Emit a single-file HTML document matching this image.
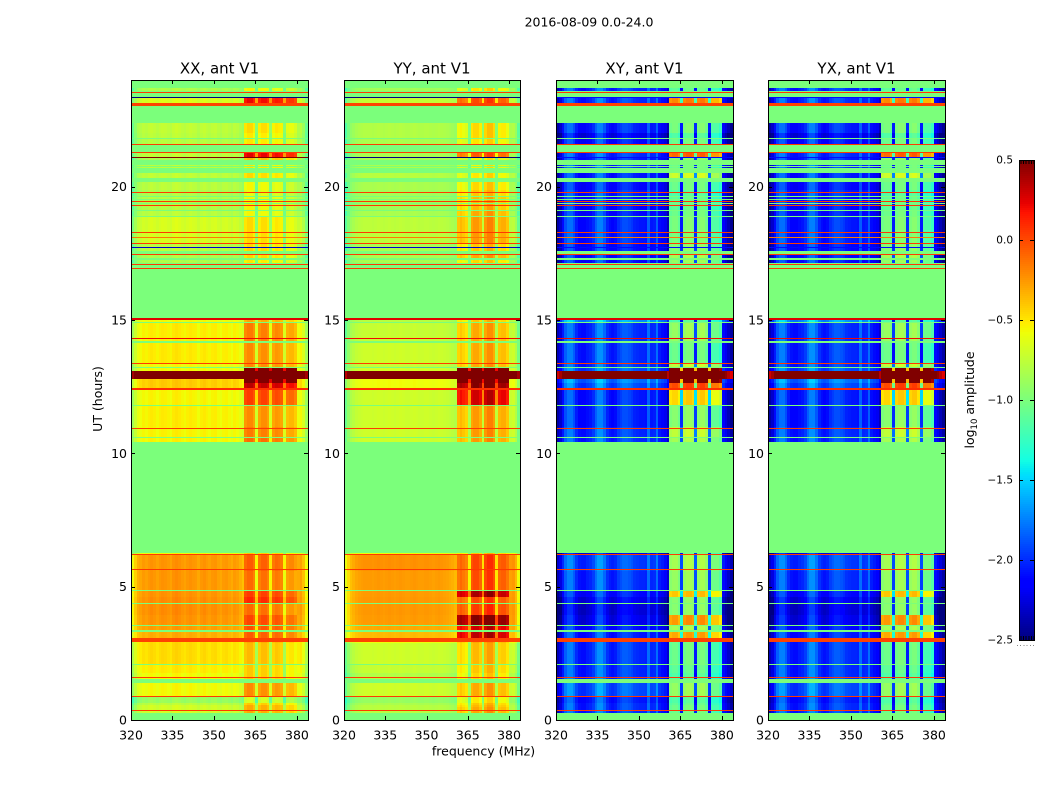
<!DOCTYPE html>
<html><head><meta charset="utf-8"><title>2016-08-09 0.0-24.0</title>
<style>
html,body{margin:0;padding:0;background:#fff;width:1050px;height:800px;overflow:hidden}
svg{display:block}
text{font-family:"DejaVu Sans","Liberation Sans",sans-serif;fill:#000}
</style></head>
<body>
<svg id="chart" xmlns="http://www.w3.org/2000/svg" width="1050" height="800" viewBox="0 0 1050 800">
<text x="589" y="26.5" text-anchor="middle" font-size="12.5">2016-08-09 0.0-24.0</text>
<text transform="translate(102,399) rotate(-90)" text-anchor="middle" font-size="12.5">UT (hours)</text>
<text x="483.5" y="755.5" text-anchor="middle" font-size="12.5">frequency (MHz)</text>
<text transform="translate(974,400) rotate(-90)" text-anchor="middle" font-size="12.5">log<tspan font-size="8.5" dy="3">10</tspan><tspan dy="-3"> amplitude</tspan></text>
</svg>
<script>
const _ = null;
const panelTitles = ["XX, ant V1", "YY, ant V1", "XY, ant V1", "YX, ant V1"];
const xTickValues = [320, 335, 350, 365, 380];
const yTickValues = [0, 5, 10, 15, 20];
const colorbarTicks = [0.5, 0.0, -0.5, -1.0, -1.5, -2.0, -2.5];
const colorbarLabels = ["0.5", "0.0", "\u22120.5", "\u22121.0", "\u22121.5", "\u22122.0", "\u22122.5"];
const maskedValue = -1.0;

/* time-band edges in UT hours */
const bandEdges = [
0,.25,.47,.5,.55,.58,.62,.88,1.375,1.55,
1.75,1.78,2.07,2.11,2.9,3.05,3.3,3.38,3.52,3.56,
3.95,4.35,4.39,4.6,4.83,4.88,5.6,6.2,6.25,10.43,
10.58,10.62,11.0,11.78,11.82,12.4,12.62,12.8,13.08,13.19,
13.25,13.35,14.15,14.2,14.9,14.94,15.06,17.12,17.25,17.33,
17.46,17.58,17.9,18.88,18.91,19.1,19.13,19.6,19.88,20.16,
20.33,20.5,20.7,20.74,20.78,20.82,21.0,21.08,21.27,21.58,
21.78,21.82,22.0,22.37,23.04,23.12,23.33,23.6,23.7,24];

/* log10 amplitude per band: outside / inside the 361-380 MHz blocks; null = flagged */
const xxLow = [_,-.72,_,-.72,_,-.8,-.92,-.6,_,-.6,
_,-.55,_,-.5,-.5,-.35,_,-.3,_,-.27,
-.25,_,-.25,-.27,_,-.28,-.28,-.6,_,-.58,
_,-.58,-.56,_,-.58,-.45,-.45,.7,-.6,_,
-.6,-.55,_,-.56,_,-.6,_,-.85,_,-.85,
_,-.8,-.7,_,-.8,_,-.82,-.85,-.8,_,
-.78,_,-.8,_,-.8,_,-.85,-.78,_,-.82,
_,-.8,-.78,_,-.7,-.68,_,-.85,_];
const xxHigh = [_,-.4,_,-.4,_,-.5,-.75,-.3,_,-.5,
_,-.5,_,-.45,-.4,-.15,_,-.12,_,-.08,
-.2,_,.02,-.05,_,-.2,-.15,-.5,_,-.2,
_,-.25,-.3,_,-.05,.25,.6,1.2,.6,_,
-.3,-.3,_,-.25,_,-.4,_,-.6,_,-.55,
_,-.55,-.55,_,-.65,_,-.65,-.7,-.65,_,
-.55,_,-.6,_,-.6,_,-.45,.15,_,-.6,
_,-.6,-.55,_,.1,.12,_,-.65,_];
const yyLow = [_,-.8,_,-.8,_,-.85,-.92,-.72,_,-.82,
_,-.75,_,-.72,-.6,-.38,_,-.32,_,-.28,
-.27,_,-.27,-.28,_,-.28,-.25,-.6,_,-.72,
_,-.72,-.72,_,-.72,-.6,-.6,.7,-.7,_,
-.75,-.72,_,-.75,_,-.8,_,-.85,_,-.85,
_,-.85,-.78,_,-.85,_,-.88,-.88,-.85,_,
-.8,_,-.85,_,-.85,_,-.85,-.85,_,-.85,
_,-.82,-.82,_,-.75,-.75,_,-.88,_];
const yyHigh = [_,-.4,_,-.45,_,-.5,-.6,-.4,_,-.55,
_,-.5,_,-.45,-.4,.25,_,.2,_,.42,
-.05,_,-.1,.3,_,-.1,-.08,-.5,_,-.35,
_,-.35,-.35,_,.2,.4,.6,1.2,.6,_,
-.4,-.4,_,-.4,_,-.5,_,-.55,_,-.4,
_,-.5,-.35,_,-.4,_,-.45,-.5,-.55,_,
-.6,_,-.65,_,-.65,_,-.65,-.15,_,-.6,
_,-.55,-.55,_,-.1,-.1,_,-.6,_];
const xyLow = [_,-2,_,-2,_,-2,-2.05,-1.9,_,-2,
_,-2,_,-2,-2,-2.05,_,-2.1,_,-2.2,
-2.25,_,-2.2,-2.1,_,-2,-1.95,-2.2,_,-2,
_,-2,-2.05,_,-2.05,-1.9,-1.8,.65,-1.9,_,
-2,-2,_,-2,_,-1.7,_,-2.1,_,-2.1,
_,-2.1,-2.05,_,-2.1,_,-2.1,-2.05,-2.1,_,
-2.05,_,-2,_,-2,_,-2.05,-2,_,-2.1,
_,-2.2,-2.05,_,-2,-2,_,-2,_];
const xyHigh = [_,-1.1,_,-1.1,_,-1.15,-1.2,-.95,_,-1.2,
_,-1.15,_,-1.1,-1.1,-.35,_,-.9,_,-.3,
-1,_,-1,-.45,_,-.95,-.9,-1.1,_,-.9,
_,-.8,-1,_,-.5,-.05,.6,1.7,.6,_,
-.8,-1.1,_,-.95,_,-1.2,_,-.95,_,-.9,
_,-1,-1.05,_,-1.1,_,-1.15,-1.2,-1.1,_,
-.75,_,-1.1,_,-1.1,_,-1,-.15,_,-1.1,
_,-1.2,-1.05,_,-.25,-.25,_,-1.15,_];
const yxLow = [_,-2,_,-2,_,-2,-2.05,-1.9,_,-2,
_,-2,_,-2,-2,-2.05,_,-2.1,_,-2.2,
-2.25,_,-2.2,-2.1,_,-2,-1.95,-2.2,_,-2,
_,-2,-2.05,_,-2.05,-1.9,-1.8,.65,-1.9,_,
-2,-2,_,-2,_,-1.7,_,-2.1,_,-2.1,
_,-2.1,-2.05,_,-2.1,_,-2.1,-2.05,-2.1,_,
-2.05,_,-2,_,-2,_,-2.05,-2,_,-2.1,
_,-2.2,-2.05,_,-2,-2,_,-2,_];
const yxHigh = [_,-1.1,_,-1.1,_,-1.15,-1.2,-.95,_,-1.2,
_,-1.15,_,-1.1,-1.1,-.35,_,-.9,_,-.3,
-1,_,-1,-.45,_,-.95,-.9,-1.1,_,-.9,
_,-.8,-1,_,-.5,-.05,.6,1.7,.6,_,
-.8,-1.1,_,-.95,_,-1.2,_,-.95,_,-.9,
_,-1,-1.05,_,-1.1,_,-1.15,-1.2,-1.1,_,
-.75,_,-1.1,_,-1.1,_,-1,-.15,_,-1.1,
_,-1.2,-1.05,_,-.25,-.25,_,-1.15,_];

/* per-channel offset (64 channels, 320-383 MHz) */
const xxProfile = [-.3,-.15,-.05,-.02,.02,0,.03,.05,.03,0,
.03,.05,.04,.02,0,.05,.07,.05,.02,0,
.03,.05,.03,.02,-.02,.03,.05,.02,0,.03,
.04,0,-.02,.02,.03,0,-.03,.02,0,-.05,
-.1,.05,.1,.1,.02,-.4,.02,.08,.08,.02,
-.35,0,.05,.03,0,-.4,-.08,-.05,-.05,-.12,
-.03,0,-.1,-.3];
const yyProfile = [-.35,-.2,-.1,-.06,-.02,0,.01,.02,.02,.02,
.01,.02,.03,.02,.01,.02,.03,.02,.01,.02,
.03,.02,.01,.01,.02,.03,.02,.01,.01,.02,
.02,.01,0,.01,.02,.01,0,-.01,-.03,-.05,
-.08,-.05,0,-.05,-.1,-.45,.05,.1,.1,.02,
-.4,.1,.18,.18,.08,-.4,0,.03,.03,-.05,
0,.02,-.08,-.3];
const xyProfile = [-.35,-.25,-.05,.15,.25,.25,.15,0,-.08,-.1,
-.1,-.05,-.02,.05,.2,.3,.3,.18,.02,-.05,
-.08,-.05,.05,.1,.15,.15,.12,.08,.02,0,
-.02,-.02,-.03,.2,-.02,0,.2,-.05,-.1,-.15,
-.3,0,.05,.05,-.05,-1,.05,.1,.1,.05,
-.95,.05,.1,.1,0,-1,-.1,-.1,-.1,-.2,
-.1,-.2,-.3,-.4];
const yxProfile = [-.35,-.25,-.05,.15,.25,.25,.15,0,-.08,-.1,
-.1,-.05,-.02,.05,.2,.3,.3,.18,.02,-.05,
-.08,-.05,.05,.1,.15,.15,.12,.08,.02,0,
-.02,-.02,-.03,.2,-.02,0,.2,-.05,-.1,-.15,
-.3,0,.05,.05,-.05,-1,.05,.1,.1,.05,
-.95,.05,.1,.1,0,-1,-.1,-.1,-.1,-.2,
-.1,-.2,-.3,-.4];

/* narrow bright interference rows: start/end hour and value */
const rfiStart = [.335,.875,1.585,2.91,5.625,6.195,10.925,12.38,13.36,14.295,15.0,16.925,17.075,17.445,17.86,18.085,18.275,19.285,19.435,19.775,21.275,21.575,23.04,23.525];
const rfiEnd =   [.365,.905,1.615,3.06,5.655,6.225,10.955,12.44,13.39,14.325,15.06,16.955,17.105,17.475,17.89,18.115,18.305,19.315,19.465,19.805,21.305,21.605,23.12,23.555];
const rfiValues = [.05,.05,.05,.02,.05,.05,.05,.08,.05,.2,.25,.05,.05,.05,.05,-.15,.05,.05,.05,.05,.05,.05,.02,.05];
/* thin flagged rows inside data bands */
const flagRowStart = [19.36,19.52,19.62];
const flagRowEnd = [19.39,19.55,19.65];
const darkRowStart = [17.695, 21.085, 23.335];
const darkRowEnd = [17.725, 21.115, 23.365];
const darkRowXX = [-2.3, .5, -2.5];
const darkRowYY = [-2.3, -2.5, -2.5];
const darkRowXY = [-2.1, -2.1, -2.1];
const darkRowYX = [-2.1, -2.1, -2.1];

const panelLefts = [131, 344, 556, 768];
const panelWidths = [177, 176, 177, 177];
const plotTop = 80, plotBottom = 720;
const freqMin = 320, freqMax = 384, hourMin = 0, hourMax = 24;
const panelData = [
 {low:xxLow, high:xxHigh, prof:xxProfile, dark:darkRowXX, key:"xx"},
 {low:yyLow, high:yyHigh, prof:yyProfile, dark:darkRowYY, key:"yy"},
 {low:xyLow, high:xyHigh, prof:xyProfile, dark:darkRowXY, key:"xy"},
 {low:yxLow, high:yxHigh, prof:yxProfile, dark:darkRowYX, key:"yx"}];

const NS = "http://www.w3.org/2000/svg";
const svg = document.getElementById("chart");
function yScale(h){ return plotBottom - (h - hourMin) / (hourMax - hourMin) * (plotBottom - plotTop); }
function xScale(left, width, f){ return left + (f - freqMin) / (freqMax - freqMin) * width; }
function segment(t, pts){
  for (let i = 1; i < pts.length; i++){
    if (t <= pts[i][0]) {
      const a = pts[i-1], b = pts[i];
      return a[1] + (b[1]-a[1]) * (t-a[0]) / (b[0]-a[0]);
    }
  }
  return pts[pts.length-1][1];
}
function jet(v){
  const t = Math.max(0, Math.min(1, (v + 2.5) / 3));
  const r = segment(t, [[0,0],[.35,0],[.66,1],[.89,1],[1,.5]]);
  const g = segment(t, [[0,0],[.125,0],[.375,1],[.64,1],[.91,0],[1,0]]);
  const b = segment(t, [[0,.5],[.11,1],[.34,1],[.65,0],[1,0]]);
  return "rgb(" + Math.round(r*255) + "," + Math.round(g*255) + "," + Math.round(b*255) + ")";
}
function make(tag, attrs, parent){
  const el = document.createElementNS(NS, tag);
  for (const k in attrs) el.setAttribute(k, attrs[k]);
  (parent || svg).appendChild(el);
  return el;
}
function isHighChannel(ch){ return ch >= 41 && ch <= 59; }

panelData.forEach(function(p, pi){
  const left = panelLefts[pi];
  const plotWidth = panelWidths[pi];
  const g = make("g", {"shape-rendering":"crispEdges"});
  
  
  const bg = make("rect", {x:left, y:plotTop, width:plotWidth, height:plotBottom-plotTop, fill:jet(maskedValue)}, g);
  
  
  for (let b = 0; b < bandEdges.length - 1; b++){
    if (p.low[b] === null) continue;
    const y0 = Math.round(yScale(bandEdges[b+1]));
    const y1 = Math.round(yScale(bandEdges[b]));
    for (let ch = 0; ch < p.prof.length; ch++){
      const base = isHighChannel(ch) ? p.high[b] : p.low[b];
      const x0 = Math.round(xScale(left, plotWidth, freqMin + ch));
      const x1 = Math.round(xScale(left, plotWidth, freqMin + ch + 1));
      const cell = make("rect", {x:x0, y:y0, width:x1-x0, height:Math.max(1,y1-y0), fill:jet(base + p.prof[ch])}, g);
      
      
    }
  }
  for (let r = 0; r < flagRowStart.length; r++){
    const y0 = Math.round(yScale(flagRowEnd[r]));
    const y1 = Math.round(yScale(flagRowStart[r]));
    const flag = make("rect", {x:left, y:y0, width:plotWidth, height:Math.max(1,y1-y0), fill:jet(maskedValue)}, g);
    
    
  }
  for (let r = 0; r < rfiStart.length; r++){
    const y0 = Math.round(yScale(rfiEnd[r]));
    const y1 = Math.round(yScale(rfiStart[r]));
    const line = make("rect", {x:left, y:y0, width:plotWidth, height:Math.max(1,y1-y0), fill:jet(rfiValues[r])}, g);
    
    
  }
  for (let r = 0; r < darkRowStart.length; r++){
    const y0 = Math.round(yScale(darkRowEnd[r]));
    const y1 = Math.round(yScale(darkRowStart[r]));
    const line = make("rect", {x:left, y:y0, width:plotWidth, height:Math.max(1,y1-y0), fill:jet(p.dark[r])}, g);
    
    
  }
  const frame = make("rect", {x:left+.5, y:plotTop+.5, width:plotWidth, height:plotBottom-plotTop, fill:"none", stroke:"#000", "stroke-width":1}, g);
  
  
  xTickValues.forEach(function(f){
    const x = Math.round(xScale(left, plotWidth, f)) + .5;
    const t1 = make("line", {x1:x, x2:x, y1:plotBottom, y2:plotBottom-4, stroke:"#000"}, g);
    
    
    const t2 = make("line", {x1:x, x2:x, y1:plotTop, y2:plotTop+4, stroke:"#000"}, g);
    
    
    const lab = make("text", {x:xScale(left, plotWidth, f), y:plotBottom+19.5, "text-anchor":"middle", "font-size":12.5});
    
    
    lab.textContent = f;
  });
  yTickValues.forEach(function(h){
    const y = Math.round(yScale(h)) + .5;
    const t1 = make("line", {x1:left, x2:left+4, y1:y, y2:y, stroke:"#000"}, g);
    
    
    const t2 = make("line", {x1:left+plotWidth-4, x2:left+plotWidth, y1:y, y2:y, stroke:"#000"}, g);
    
    
    const lab = make("text", {x:left-4, y:yScale(h)+4.5, "text-anchor":"end", "font-size":12.5});
    
    
    lab.textContent = h;
  });
  const title = make("text", {x:left+plotWidth/2, y:73.5, "text-anchor":"middle", "font-size":15});
  
  
  title.textContent = panelTitles[pi];
});

/* colorbar */
const cbLeft = 1019, cbRight = 1034, cbTop = 160, cbBottom = 640, cbMin = -2.5, cbMax = 0.5;
function cbScale(v){ return cbBottom - (v - cbMin) / (cbMax - cbMin) * (cbBottom - cbTop); }
const cb = make("g", {"shape-rendering":"crispEdges"});


for (let py = cbTop; py < cbBottom; py += 2){
  const v = cbMax - (py + 1 - cbTop) / (cbBottom - cbTop) * (cbMax - cbMin);
  const strip = make("rect", {x:cbLeft, y:py, width:cbRight-cbLeft, height:2, fill:jet(v)}, cb);
  
  
}
const cbFrame = make("rect", {x:cbLeft+.5, y:cbTop+.5, width:cbRight-cbLeft, height:cbBottom-cbTop, fill:"none", stroke:"#000"}, cb);


colorbarTicks.forEach(function(v, i){
  const y = Math.round(cbScale(v)) + .5;
  const t1 = make("line", {x1:cbLeft, x2:cbLeft+4, y1:y, y2:y, stroke:"#000"}, cb);
  
  
  const t2 = make("line", {x1:cbRight-4, x2:cbRight, y1:y, y2:y, stroke:"#000"}, cb);
  
  
  const lab = make("text", {x:cbLeft-6, y:cbScale(v)+3.5, "text-anchor":"end", "font-size":10.5});
  
  
  lab.textContent = colorbarLabels[i];
});
for (let i = 0; i < 6; i++){
  const xp = cbLeft + 2 + i * 2.6;
  const top = make("line", {x1:xp, x2:xp, y1:cbTop, y2:cbTop+4, stroke:"#000"}, cb);
  
  
  const bot = make("line", {x1:xp, x2:xp, y1:cbBottom-4, y2:cbBottom, stroke:"#000"}, cb);
  
  
  const dot = make("rect", {x:cbLeft-2+i*3.2, y:645, width:1, height:1, fill:"#888"}, cb);
  
  
}
</script>
</body></html>
